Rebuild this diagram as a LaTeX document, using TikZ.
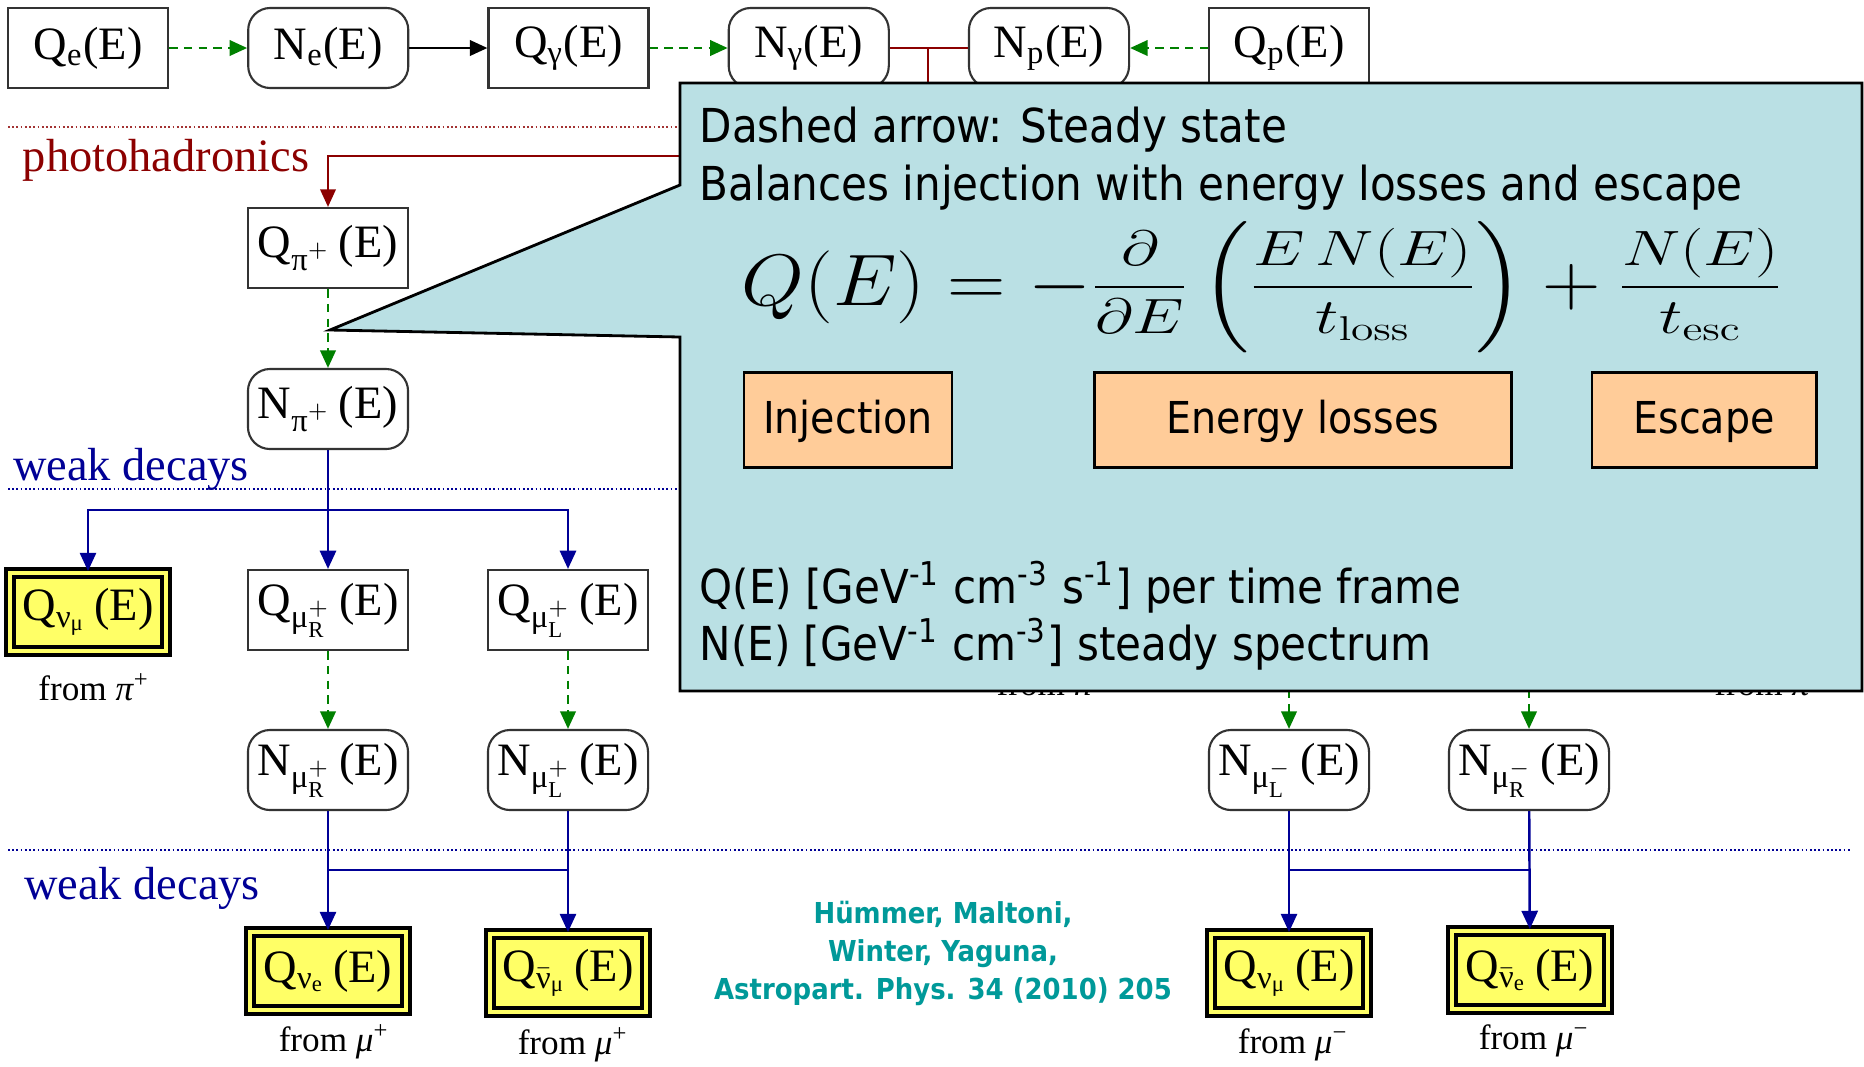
\documentclass[tikz,border=0pt]{standalone}
\usepackage{amsmath}
\usepackage[no-math]{fontspec}
\setmainfont{Liberation Serif}
\newfontfamily\notefont{DejaVu Sans Condensed}
\usetikzlibrary{positioning,arrows.meta}
\definecolor{notebg}{RGB}{186,224,228}
\definecolor{peach}{RGB}{255,204,153}
\definecolor{hotyellow}{RGB}{255,255,102}
\definecolor{steadygreen}{RGB}{0,128,0}
\definecolor{decayblue}{RGB}{0,0,150}
\definecolor{hadrred}{RGB}{140,0,0}
\definecolor{citeteal}{RGB}{0,153,153}
\newcommand{\gr}[1]{\text{#1}}
\newcommand{\flatfrac}[2]{\raisebox{1.76pt}{\scalebox{0.81}[0.68]{$\displaystyle\frac{#1}{#2}$}}}

\begin{document}
\begin{tikzpicture}[
    x=0.01cm, y=-0.01cm,
    node distance=0.78cm,
    font=\fontsize{13.2}{15}\selectfont,
    qbox/.style={
      rectangle, draw=black!80, line width=0.6pt, fill=white,
      minimum width=1.6cm, minimum height=0.8cm, inner sep=1pt
    },
    nbox/.style={qbox, rounded corners=0.22cm},
    ybox/.style={
      qbox, draw=black, fill=hotyellow, line width=1.1pt,
      double=hotyellow, double distance=1.2pt,
      minimum width=1.56cm, minimum height=0.78cm
    },
    fromlbl/.style={font=\fontsize{10}{12}\selectfont, inner sep=1pt},
    steady/.style={-{Triangle[length=5pt,width=4.4pt]}, draw=steadygreen,
      line width=0.7pt, dash pattern=on 2.4pt off 1.8pt},
    plain/.style={-{Triangle[length=5pt,width=4.4pt]}, draw=black, line width=0.7pt},
    hadr/.style={-{Triangle[length=5pt,width=4.4pt]}, draw=hadrred, line width=0.6pt},
    decay/.style={-{Triangle[length=5.2pt,width=4.6pt]}, draw=decayblue, line width=0.7pt},
    sepline/.style={line width=0.5pt, dash pattern=on 0.5pt off 0.7pt},
    note/.style={draw=black, line width=0.8pt, fill=notebg},
    notetext/.style={anchor=west, inner sep=0pt, font=\notefont\fontsize{13.3}{16}\selectfont},
    tag/.style={draw=black, line width=0.8pt, fill=peach, minimum height=0.95cm,
      text height=0.36cm, font=\notefont\fontsize{12.5}{15}\selectfont},
    cite/.style={align=center, text=citeteal,
      font=\notefont\bfseries\fontsize{8.2}{10.8}\selectfont}
  ]
    \useasboundingbox (0,0) rectangle (1864,1066);

    % separators and section labels
    \draw[sepline, draw=hadrred!80] (8,127) -- (1850,127);
    \draw[sepline, draw=decayblue] (8,489) -- (1850,489);
    \draw[sepline, draw=decayblue] (8,850) -- (1850,850);
    \node[text=hadrred] (photo) at (166,160) {photohadronics};
    \node[text=decayblue] (weakA) at (131,469) {weak decays};
    \node[text=decayblue] (weakB) at (142,888) {weak decays};

    % top row
    \node[qbox] (qe) at (88,48) {Q\textsubscript{e}(E)};
    \node[nbox, right=of qe] (ne) {N\textsubscript{e}(E)};
    \node[qbox, right=of ne] (qg) {Q\textsubscript{γ}(E)};
    \node[nbox, right=of qg] (ng) {N\textsubscript{γ}(E)};
    \node[nbox, right=of ng] (np) {N\textsubscript{p}(E)};
    \node[qbox, right=of np] (qp) {Q\textsubscript{p}(E)};

    % pions
    \node[qbox] (qpi) at (328,248) {Q\textsubscript{$\gr{π}^{+}$}\,(E)};
    \node[nbox] (npi) at (328,409) {N\textsubscript{$\gr{π}^{+}$}\,(E)};

    % muons, left
    \node[ybox] (qnmA) at (88,612) {Q\textsubscript{$\gr{ν}_{\gr{μ}}$}\,(E)};
    \node[qbox] (qmuR) at (328,610) {Q\textsubscript{$\gr{μ}^{+}_{\gr{R}}$}\,(E)};
    \node[qbox] (qmuL) at (568,610) {Q\textsubscript{$\gr{μ}^{+}_{\gr{L}}$}\,(E)};
    \node[nbox] (nmuR) at (328,770) {N\textsubscript{$\gr{μ}^{+}_{\gr{R}}$}\,(E)};
    \node[nbox] (nmuL) at (568,770) {N\textsubscript{$\gr{μ}^{+}_{\gr{L}}$}\,(E)};
    \node[ybox] (qne) at (328,971) {Q\textsubscript{$\gr{ν}_{\gr{e}}$}\,(E)};
    \node[ybox] (qanm) at (568,973) {Q\textsubscript{$\bar{\gr{ν}}_{\gr{μ}}$}\,(E)};

    % muons, right
    \node[nbox] (nmmL) at (1289,770) {N\textsubscript{$\gr{μ}^{-}_{\gr{L}}$}\,(E)};
    \node[nbox] (nmmR) at (1529,770) {N\textsubscript{$\gr{μ}^{-}_{\gr{R}}$}\,(E)};
    \node[ybox] (qnmB) at (1289,973) {Q\textsubscript{$\gr{ν}_{\gr{μ}}$}\,(E)};
    \node[ybox] (qane) at (1530,970) {Q\textsubscript{$\bar{\gr{ν}}_{\gr{e}}$}\,(E)};

    % origin labels
    \node[fromlbl] (fromA) at (94,687) {from \textit{π}\textsuperscript{+}};
    \node[fromlbl] (fromB) at (334,1042) {from \textit{μ}\textsuperscript{+}};
    \node[fromlbl] (fromC) at (573,1045) {from \textit{μ}\textsuperscript{+}};
    \node[fromlbl] (fromD) at (1293,1045) {from \textit{μ}\textsuperscript{−}};
    \node[fromlbl] (fromE) at (1534,1041) {from \textit{μ}\textsuperscript{−}};
    \node[fromlbl] (fromF) at (1044,683) {from \textit{n}};
    \node[fromlbl] (fromG) at (1770,683) {from \textit{π}\textsuperscript{−}};

    % connectors
    \coordinate (join) at (928,48);
    \coordinate (turn) at (328,156);
    \coordinate (fork) at (328,510);
    \coordinate (linkL) at (328,870);
    \coordinate (linkR) at (568,870);
    \coordinate (linkRL) at (1289,870);
    \coordinate (linkRR) at (1529,870);
    \coordinate (hidL) at (1289,660);
    \coordinate (hidR) at (1529,660);

    \draw[steady] (qe) -- (ne);
    \draw[plain] (ne) -- (qg);
    \draw[steady] (qg) -- (ng);
    \draw[steady] (qp) -- (np);
    \draw[hadr, -] (ng) -- (np);
    \draw[hadr] (join) |- (turn) -- (qpi);
    \draw[steady] (qpi) -- (npi);
    \draw[decay] (npi) -- (qmuR);
    \draw[decay] (fork) -| (qnmA);
    \draw[decay] (fork) -| (qmuL);
    \draw[steady] (qmuR) -- (nmuR);
    \draw[steady] (qmuL) -- (nmuL);
    \draw[decay] (nmuR) -- (qne);
    \draw[decay] (nmuL) -- (qanm);
    \draw[decay, -] (linkL) -- (linkR);
    \draw[steady] (hidL) -- (nmmL);
    \draw[steady] (hidR) -- (nmmR);
    \draw[decay] (nmmL) -- (qnmB);
    \draw[decay] (nmmR) -- (qane);
    \draw[decay, -] (linkRL) -- (linkRR);

    % callout
    \coordinate (tip) at (330,330);
    \draw[note] (680,83) -- (1862,83) -- (1862,691) -- (680,691)
      -- (680,337) -- (tip) -- (680,185) -- cycle;
    \node[notetext] (line1) at (699,130) {Dashed arrow: Steady state};
    \node[notetext] (line2) at (699,188) {Balances injection with energy losses and escape};
    \node[font=\fontsize{22}{26}\selectfont] (eq) at (1262,287)
      {\scalebox{1.11}[1]{$\displaystyle Q(E) = -\flatfrac{\partial}{\partial E}
        \left(\flatfrac{E\,N(E)}{t_{\mathrm{loss}}}\right) + \flatfrac{N(E)}{t_{\mathrm{esc}}}$}};
    \node[tag, minimum width=2.08cm] (inj) at (848,420) {Injection};
    \node[tag, minimum width=4.17cm] (loss) at (1303,420) {Energy losses};
    \node[tag, minimum width=2.24cm] (esc) at (1704,420) {Escape};
    \node[notetext] (line3) at (699,587)
      {Q(E) [GeV\textsuperscript{-1} cm\textsuperscript{-3} s\textsuperscript{-1}] per time frame};
    \node[notetext] (line4) at (699,644)
      {N(E) [GeV\textsuperscript{-1} cm\textsuperscript{-3}] steady spectrum};

    \node[cite] (ref) at (943,953)
      {Hümmer, Maltoni,\\Winter, Yaguna,\\Astropart. Phys. 34 (2010) 205};
  \end{tikzpicture}
\end{document}
